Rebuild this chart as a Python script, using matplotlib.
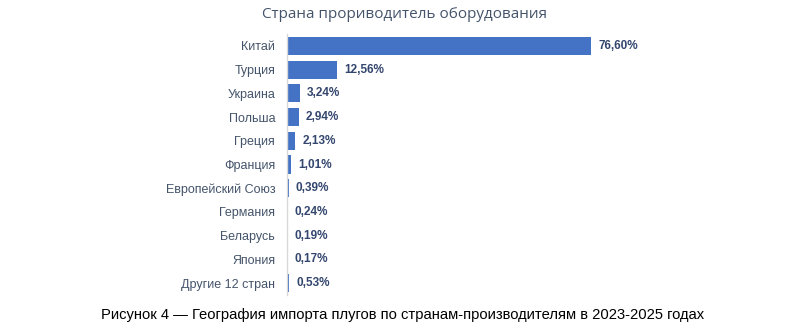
import matplotlib
matplotlib.use("Agg")
import matplotlib.pyplot as plt

countries = ["Китай", "Турция", "Украина", "Польша", "Греция", "Франция",
             "Европейский Союз", "Германия", "Беларусь", "Япония", "Другие 12 стран"]
shares = [76.60, 12.56, 3.24, 2.94, 2.13, 1.01, 0.39, 0.24, 0.19, 0.17, 0.53]
title = "Страна прориводитель оборудования"
caption = "Рисунок 4 — География импорта плугов по странам-производителям в 2023-2025 годах"

plt.rcParams["font.family"] = ["Liberation Sans", "DejaVu Sans"]

fig = plt.figure(figsize=(8.06, 3.31), dpi=100)
ax = fig.add_axes([287 / 806, 1 - 295 / 331, 397 / 806, 261 / 331])

ypos = list(range(len(countries)))
ax.barh(ypos, shares, height=0.76, color="#4472C4")
ax.set_ylim(len(countries) - 0.5, -0.5)
ax.set_xlim(0, 100)

for y, v in zip(ypos, shares):
    ax.annotate(f"{v:.2f}%".replace(".", ","), xy=(v, y), xytext=(5, 0),
                textcoords="offset points", va="center", ha="left",
                fontsize=8.5, fontweight="bold", color="#33466E")

ax.set_yticks(ypos)
ax.set_yticklabels(countries, fontsize=9, color="#44546A")
ax.tick_params(axis="y", length=0, pad=8.5)
ax.set_xticks([])
for s in ["top", "right", "bottom"]:
    ax.spines[s].set_visible(False)
ax.spines["left"].set_color("#D9D9D9")
ax.spines["left"].set_linewidth(1.0)

fig.text(405 / 806, 1 - 14 / 331, title, ha="center", va="center",
         fontsize=11, color="#44546A", family=["Open Sans", "DejaVu Sans"])
fig.text(403 / 806, 1 - 315 / 331, caption, ha="center", va="center",
         fontsize=10.65, color="black")

fig.savefig("out.png", dpi=100)
